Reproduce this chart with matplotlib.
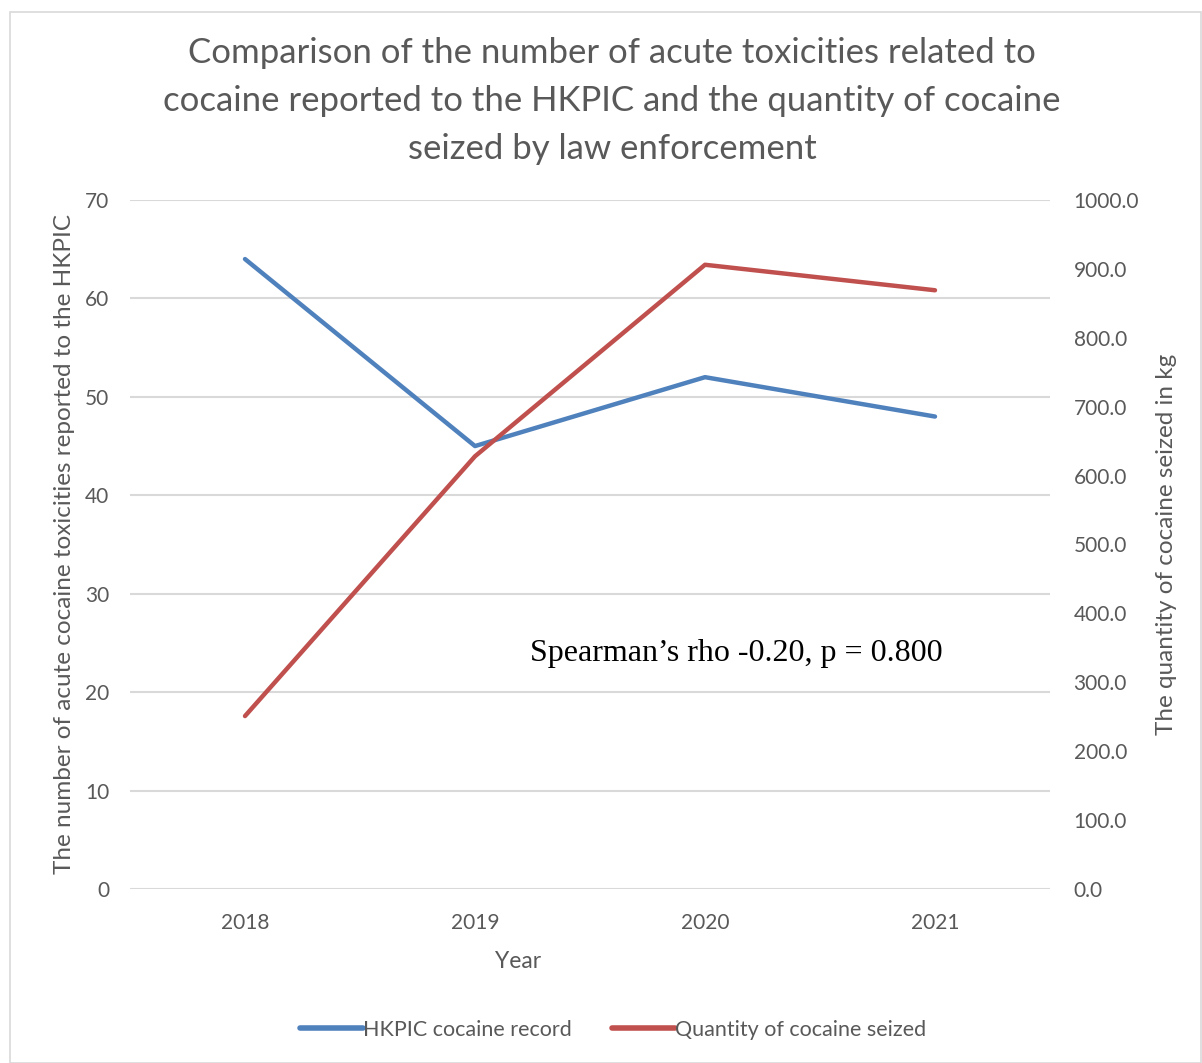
import matplotlib
matplotlib.use("Agg")
import matplotlib.pyplot as plt
from matplotlib.patches import Rectangle

years = ["2018", "2019", "2020", "2021"]
hkpic_cases = [64, 45, 52, 48]
seized_kg = [251, 628, 906, 869]
left_ticks = [0, 10, 20, 30, 40, 50, 60, 70]
right_ticks = [0, 100, 200, 300, 400, 500, 600, 700, 800, 900, 1000]

plt.rcParams["font.family"] = ["Lato", "DejaVu Sans"]
TXT = "#595959"
GRID = "#D9D9D9"
BLUE = "#4F81BD"
RED = "#C0504D"

W, H = 1202, 1063
fig = plt.figure(figsize=(W / 100, H / 100), dpi=100)
fig.patches.append(Rectangle((10 / W, 0), (W - 11) / W, 1 - 12 / H, transform=fig.transFigure,
                             fill=False, edgecolor="#D9D9D9", linewidth=1.2))

ax = fig.add_axes([130 / W, 1 - 889 / H, 920 / W, 689 / H])
ax2 = ax.twinx()

x = list(range(len(years)))
ax.plot(x, hkpic_cases, color=BLUE, linewidth=3.2, solid_capstyle="round", zorder=3)
ax2.plot(x, seized_kg, color=RED, linewidth=3.2, solid_capstyle="round", zorder=3)

ax.set_xlim(-0.5, len(years) - 0.5)
ax.set_ylim(0, 70)
ax2.set_ylim(0, 1000)
ax.set_xticks(x)
ax.set_xticklabels(years)
ax.set_yticks(left_ticks)
ax2.set_yticks(right_ticks)
ax2.set_yticklabels([f"{v:.1f}" for v in right_ticks])

ax.grid(axis="y", color=GRID, linewidth=1.5)
ax.set_axisbelow(True)
for a in (ax, ax2):
    for s in a.spines.values():
        s.set_visible(False)
    a.tick_params(length=0, labelsize=15, labelcolor=TXT)
ax.tick_params(axis="y", pad=15)
ax.tick_params(axis="x", pad=17)
ax2.tick_params(axis="y", pad=17)

ax.set_xlabel("Year", fontsize=16.5, color=TXT)
ax.xaxis.set_label_coords(0.4217, -0.09)
ax.set_ylabel("The number of acute cocaine toxicities reported to the HKPIC",
              fontsize=17.5, color=TXT, labelpad=7)
ax2.set_ylabel("The quantity of cocaine seized in kg", fontsize=17.5, color=TXT, labelpad=12)

fig.text(612 / W, 1 - 101 / H,
         "Comparison of the number of acute toxicities related to\n"
         "cocaine reported to the HKPIC and the quantity of cocaine\n"
         "seized by law enforcement",
         ha="center", va="center", fontsize=25, color=TXT, linespacing=1.6)

fig.text(530 / W, 1 - 653 / H, "Spearman\u2019s rho -0.20, p = 0.800",
         fontsize=23, family="Liberation Serif", color="black", va="center", ha="left")

h1, = ax.plot([], [], color=BLUE, linewidth=4, solid_capstyle="round")
h2, = ax.plot([], [], color=RED, linewidth=4, solid_capstyle="round")
fig.legend([h1, h2], ["HKPIC cocaine record", "Quantity of cocaine seized"],
           loc="center", bbox_to_anchor=(613 / W, 1 - 1030 / H), ncol=2, frameon=False,
           fontsize=15.5, labelcolor=TXT, handlelength=2.9, handletextpad=0.0,
           columnspacing=1.9)

fig.savefig("out.png", dpi=100)
